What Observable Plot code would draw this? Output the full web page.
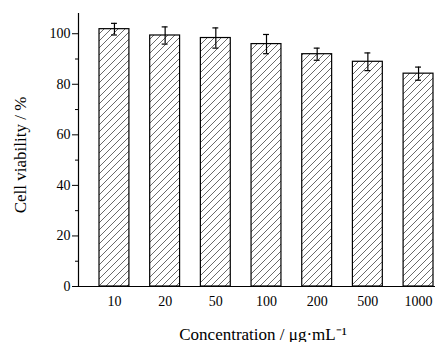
<!DOCTYPE html>
<html>
<head>
<meta charset="utf-8">
<script src="https://cdn.jsdelivr.net/npm/d3@7"></script>
<script src="https://cdn.jsdelivr.net/npm/@observablehq/plot@0.6"></script>
<style>
  html, body { margin: 0; padding: 0; background: #fff; }
</style>
</head>
<body>
<div id="chart"></div>
<script>
const concentrations = ["10", "20", "50", "100", "200", "500", "1000"];
const viability = [101.8, 99.3, 98.3, 95.9, 91.9, 88.9, 84.2];
const errors = [2.3, 3.4, 4.0, 3.8, 2.4, 3.5, 2.6];
const majorTicks = [0, 20, 40, 60, 80, 100];
const minorTicks = [10, 30, 50, 70, 90];

const data = concentrations.map((c, i) => ({
  c, v: viability[i], lo: viability[i] - errors[i], hi: viability[i] + errors[i]
}));

const font = "'Liberation Serif', 'Times New Roman', serif";

const plot = Plot.plot({
  width: 442,
  height: 342,
  marginLeft: 78,
  marginRight: 7,
  marginTop: 13,
  marginBottom: 56,
  style: { fontFamily: font, fontSize: "14px", color: "#000", background: "#fff" },
  x: { domain: concentrations, paddingInner: 0.41, paddingOuter: 0.227, align: 0.913, round: false, label: null },
  y: { domain: [0, 108], label: null },
  marks: [
    Plot.barY(data, { x: "c", y: "v", fill: "url(#hatch)", stroke: "#000", strokeWidth: 1.2 }),
    Plot.ruleX(data, { x: "c", y1: "lo", y2: "hi", stroke: "#000", strokeWidth: 1.2 }),
    Plot.tickY(data, { x: "c", y: "lo", stroke: "#000", strokeWidth: 1.2, insetLeft: 12, insetRight: 12 }),
    Plot.tickY(data, { x: "c", y: "hi", stroke: "#000", strokeWidth: 1.2, insetLeft: 12, insetRight: 12 }),
    Plot.axisY({ ticks: majorTicks, tickSize: 6, tickPadding: 2, tickFormat: d => String(d), label: null, fontSize: 14 }),
    Plot.axisY({ ticks: minorTicks, tickSize: 3, tickFormat: () => "", label: null }),
    Plot.axisX({ tickSize: 0, tickPadding: 10, label: null, fontSize: 14 }),
    Plot.ruleY([0], { stroke: "#000", strokeWidth: 1.2 }),
    Plot.frame({ anchor: "left", stroke: "#000", strokeWidth: 1.2 }),
    Plot.text(["Cell viability / %"], { frameAnchor: "left", textAnchor: "middle", lineAnchor: "middle", rotate: -90, dx: -58, dy: 5, fontSize: 17, fill: "#000" }),
    Plot.text(["Concentration / μg·mL⁻¹"], { frameAnchor: "bottom", dx: 6, dy: 53, fontSize: 17, fill: "#000" })
  ]
});

const svg = d3.select(plot);
const defs = svg.insert("defs", ":first-child");
const pat = defs.append("pattern")
  .attr("id", "hatch")
  .attr("patternUnits", "userSpaceOnUse")
  .attr("width", 7)
  .attr("height", 7);
pat.append("rect").attr("width", 7).attr("height", 7).attr("fill", "#fff");
pat.append("path")
  .attr("d", "M-1,1 l2,-2 M0,7 l7,-7 M6,8 l2,-2")
  .attr("stroke", "#444")
  .attr("stroke-width", 0.8);

document.getElementById("chart").appendChild(plot);
</script>
</body>
</html>
